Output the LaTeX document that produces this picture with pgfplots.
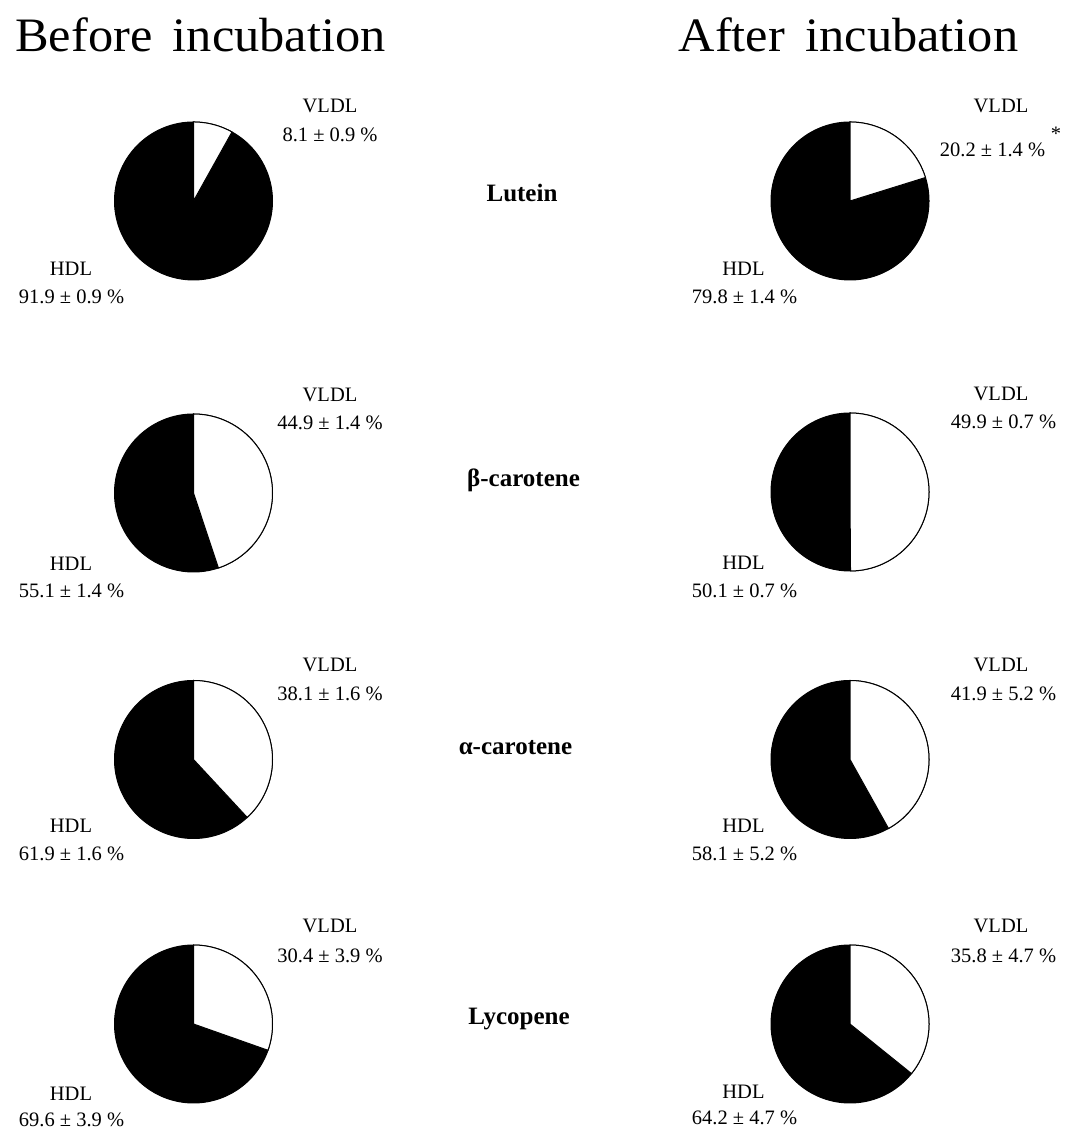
\documentclass[border=0pt]{standalone}
\usepackage{fontspec}
\setmainfont{Liberation Serif}
\newfontfamily\titlefont[FakeStretch=1.05]{Liberation Serif}
\usepackage{pgfplots}
\pgfplotsset{compat=1.18}

% #1 = centre x, #2 = centre y (from top), #3 = VLDL share in percent
\newcommand{\pie}[3]{%
\begin{axis}[at={(#1pt,{1131pt-#2pt})}, anchor=center, scale only axis,
  width=158pt, height=158pt, xmin=-1, xmax=1, ymin=-1, ymax=1,
  hide axis, clip=false]
\addplot[fill=black, draw=black, line width=1pt, domain=0:360, samples=181] ({cos(x)},{sin(x)});
\addplot[fill=white, draw=black, line width=1pt, variable=\t, domain=0:62, samples=63]
  ({ifthenelse(or(\t<0.5,\t>61.5),0,cos(90-3.6*#3*(\t-1)/60))},
   {ifthenelse(or(\t<0.5,\t>61.5),0,sin(90-3.6*#3*(\t-1)/60))});
\end{axis}}

\newcommand{\lab}[3]{\node[anchor=base, inner sep=0pt, font=\fontsize{20.5}{21}\selectfont] at (#1pt,{1131pt-#2pt}) {#3};}
\newcommand{\midlab}[3]{\node[anchor=base, inner sep=0pt, font=\fontsize{25}{26}\selectfont\bfseries] at (#1pt,{1131pt-#2pt}) {#3};}

\begin{document}
\begin{tikzpicture}
\useasboundingbox (0,0) rectangle (1069pt,1131pt);
% titles
\node[anchor=base, inner sep=0pt, font=\titlefont\fontsize{48}{50}\selectfont] at (200.5pt,{1131pt-52pt}) {Before\hspace{8pt} incubation};
\node[anchor=base, inner sep=0pt, font=\titlefont\fontsize{48}{50}\selectfont] at (848.5pt,{1131pt-52pt}) {After\hspace{8pt} incubation};

% pies (VLDL share, white slice)
\pie{193.5}{201}{8.1}
\pie{850}{201}{20.2}
\pie{193.5}{493}{44.9}
\pie{850}{492}{49.9}
\pie{193.5}{759.5}{38.1}
\pie{850}{759.5}{41.9}
\pie{193.5}{1024}{30.4}
\pie{850}{1024}{35.8}

% middle labels
\midlab{522}{202}{Lutein}
\midlab{523.5}{487}{β-carotene}
\midlab{515.5}{755}{α-carotene}
\midlab{519}{1025}{Lycopene}

% row 1
\lab{330}{113}{VLDL}
\lab{330}{142}{8.1 ± 0.9 \%}
\lab{71}{276}{HDL}
\lab{71.5}{304}{91.9 ± 0.9 \%}
\lab{1001}{113}{VLDL}
\lab{992.5}{157}{20.2 ± 1.4 \%}
\node[anchor=center, inner sep=0pt, font=\fontsize{20.5}{21}\selectfont] at (1056pt,{1131pt-134pt}) {*};
\lab{743.5}{276}{HDL}
\lab{744.5}{304}{79.8 ± 1.4 \%}
% row 2
\lab{330}{402}{VLDL}
\lab{330}{430}{44.9 ± 1.4 \%}
\lab{71}{571}{HDL}
\lab{71.5}{598}{55.1 ± 1.4 \%}
\lab{1001}{401}{VLDL}
\lab{1003.5}{429}{49.9 ± 0.7 \%}
\lab{743.5}{570}{HDL}
\lab{744.5}{598}{50.1 ± 0.7 \%}
% row 3
\lab{330}{672}{VLDL}
\lab{330}{701}{38.1 ± 1.6 \%}
\lab{71}{833}{HDL}
\lab{71.5}{861}{61.9 ± 1.6 \%}
\lab{1001}{672}{VLDL}
\lab{1003.5}{701}{41.9 ± 5.2 \%}
\lab{743.5}{833}{HDL}
\lab{744.5}{861}{58.1 ± 5.2 \%}
% row 4
\lab{330}{933}{VLDL}
\lab{330}{963}{30.4 ± 3.9 \%}
\lab{71}{1101}{HDL}
\lab{71.5}{1126}{69.6 ± 3.9 \%}
\lab{1001}{933}{VLDL}
\lab{1003.5}{963}{35.8 ± 4.7 \%}
\lab{743.5}{1099}{HDL}
\lab{744.5}{1125}{64.2 ± 4.7 \%}
\end{tikzpicture}
\end{document}
